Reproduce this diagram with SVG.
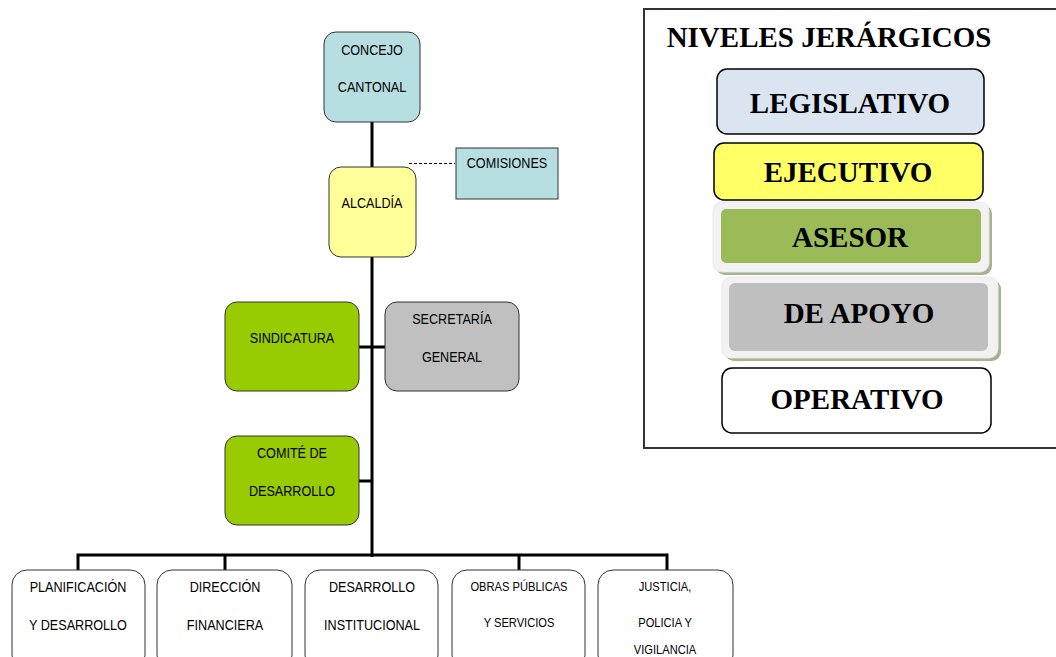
<svg xmlns="http://www.w3.org/2000/svg" width="1056" height="657" viewBox="0 0 1056 657">
<style>
.box{stroke:#333;stroke-width:1}
.t{font-family:"Liberation Sans",Arial,sans-serif;font-size:14.5px;fill:#000;text-anchor:middle}
.ts{font-family:"Liberation Sans",Arial,sans-serif;font-size:12.8px;fill:#000;text-anchor:middle}
.lt{font-family:"Liberation Serif","Times New Roman",serif;font-weight:bold;font-size:29px;fill:#000;text-anchor:middle}
.lbox{stroke:#000;stroke-width:1.5}
.conn{stroke:#000;stroke-width:3;fill:none}
</style>
<rect width="1056" height="657" fill="#fff"/>
<g id="connectors">
<line class="conn" x1="372" y1="122" x2="372" y2="557"/>
<line class="conn" x1="359" y1="347" x2="385" y2="347"/>
<line class="conn" x1="359" y1="481" x2="372" y2="481"/>
<polyline class="conn" points="78,570 78,555 667,555 667,570"/>
<line class="conn" x1="225" y1="555" x2="225" y2="570"/>
<line class="conn" x1="519" y1="555" x2="519" y2="570"/>
<line x1="409" y1="163.5" x2="455" y2="163.5" stroke="#000" stroke-width="1" stroke-dasharray="3,2"/>
</g>
<g id="concejo">
<rect class="box" x="324" y="32" width="96" height="90" rx="12" fill="#b7dfe2"/>
<text class="t" transform="translate(372,55) scale(0.87,1)">CONCEJO</text>
<text class="t" transform="translate(372,92) scale(0.87,1)">CANTONAL</text>
</g>
<g id="comisiones">
<rect class="box" x="456" y="148" width="102" height="51" fill="#b7dfe2"/>
<text class="t" transform="translate(507,168) scale(0.87,1)">COMISIONES</text>
</g>
<g id="alcaldia">
<rect class="box" x="329" y="167" width="87" height="90" rx="12" fill="#ffff99"/>
<text class="t" transform="translate(372,208) scale(0.87,1)">ALCALDÍA</text>
</g>
<g id="sindicatura">
<rect class="box" x="225" y="302" width="134" height="89" rx="12" fill="#99cc00"/>
<text class="t" transform="translate(292,343) scale(0.87,1)">SINDICATURA</text>
</g>
<g id="secretaria">
<rect class="box" x="385" y="302" width="134" height="89" rx="12" fill="#c0c0c0"/>
<text class="t" transform="translate(452,324) scale(0.87,1)">SECRETARÍA</text>
<text class="t" transform="translate(452,362) scale(0.87,1)">GENERAL</text>
</g>
<g id="comite">
<rect class="box" x="225" y="436" width="134" height="89" rx="12" fill="#99cc00"/>
<text class="t" transform="translate(292,458) scale(0.87,1)">COMITÉ DE</text>
<text class="t" transform="translate(292,496) scale(0.87,1)">DESARROLLO</text>
</g>
<g id="planificacion">
<rect class="box" x="12" y="570" width="133" height="100" rx="15" fill="#fff"/>
<text class="t" transform="translate(78,592) scale(0.87,1)">PLANIFICACIÓN</text>
<text class="t" transform="translate(78,630) scale(0.87,1)">Y DESARROLLO</text>
</g>
<g id="direccion">
<rect class="box" x="157" y="570" width="135" height="100" rx="15" fill="#fff"/>
<text class="t" transform="translate(225,592) scale(0.87,1)">DIRECCIÓN</text>
<text class="t" transform="translate(225,630) scale(0.87,1)">FINANCIERA</text>
</g>
<g id="desarrollo">
<rect class="box" x="305" y="570" width="133" height="100" rx="15" fill="#fff"/>
<text class="t" transform="translate(372,592) scale(0.87,1)">DESARROLLO</text>
<text class="t" transform="translate(372,630) scale(0.87,1)">INSTITUCIONAL</text>
</g>
<g id="obras">
<rect class="box" x="452" y="570" width="133" height="100" rx="15" fill="#fff"/>
<text class="ts" transform="translate(519,591) scale(0.87,1)">OBRAS PÚBLICAS</text>
<text class="ts" transform="translate(519,627) scale(0.87,1)">Y SERVICIOS</text>
</g>
<g id="justicia">
<rect class="box" x="598" y="570" width="135" height="100" rx="15" fill="#fff"/>
<text class="ts" transform="translate(665,591) scale(0.87,1)">JUSTICIA,</text>
<text class="ts" transform="translate(665,627) scale(0.87,1)">POLICIA Y</text>
<text class="ts" transform="translate(665,654) scale(0.87,1)">VIGILANCIA</text>
</g>
<g id="leyenda">
<rect x="644" y="9" width="420" height="439" fill="#fff" stroke="#333" stroke-width="2"/>
<text class="lt" x="829" y="47">NIVELES JERÁRGICOS</text>
</g>
<g id="legislativo">
<rect class="lbox" x="717" y="69" width="267" height="65" rx="10" fill="#dbe5f1"/>
<text class="lt" x="850" y="113">LEGISLATIVO</text>
</g>
<g id="ejecutivo">
<rect class="lbox" x="714" y="143" width="269" height="57" rx="10" fill="#ffff66"/>
<text class="lt" x="848" y="182">EJECUTIVO</text>
</g>
<g id="asesor">
<rect x="716" y="205" width="276" height="70" rx="9" fill="#a7b28f"/>
<rect x="713" y="202" width="276" height="70" rx="9" fill="#f2f2f2" stroke="#e8e8e8" stroke-width="1"/>
<rect x="721" y="209" width="260" height="54" rx="5" fill="#9bbb59"/>
<text class="lt" x="850" y="247">ASESOR</text>
</g>
<g id="apoyo">
<rect x="725" y="280" width="276" height="81" rx="9" fill="#a7b28f"/>
<rect x="722" y="277" width="276" height="81" rx="9" fill="#f2f2f2" stroke="#e8e8e8" stroke-width="1"/>
<rect x="729" y="283" width="259" height="68" rx="6" fill="#bfbfbf"/>
<text class="lt" x="859" y="323">DE APOYO</text>
</g>
<g id="operativo">
<rect class="lbox" x="722" y="368" width="269" height="65" rx="10" fill="#fff"/>
<text class="lt" x="857" y="409">OPERATIVO</text>
</g>
</svg>
